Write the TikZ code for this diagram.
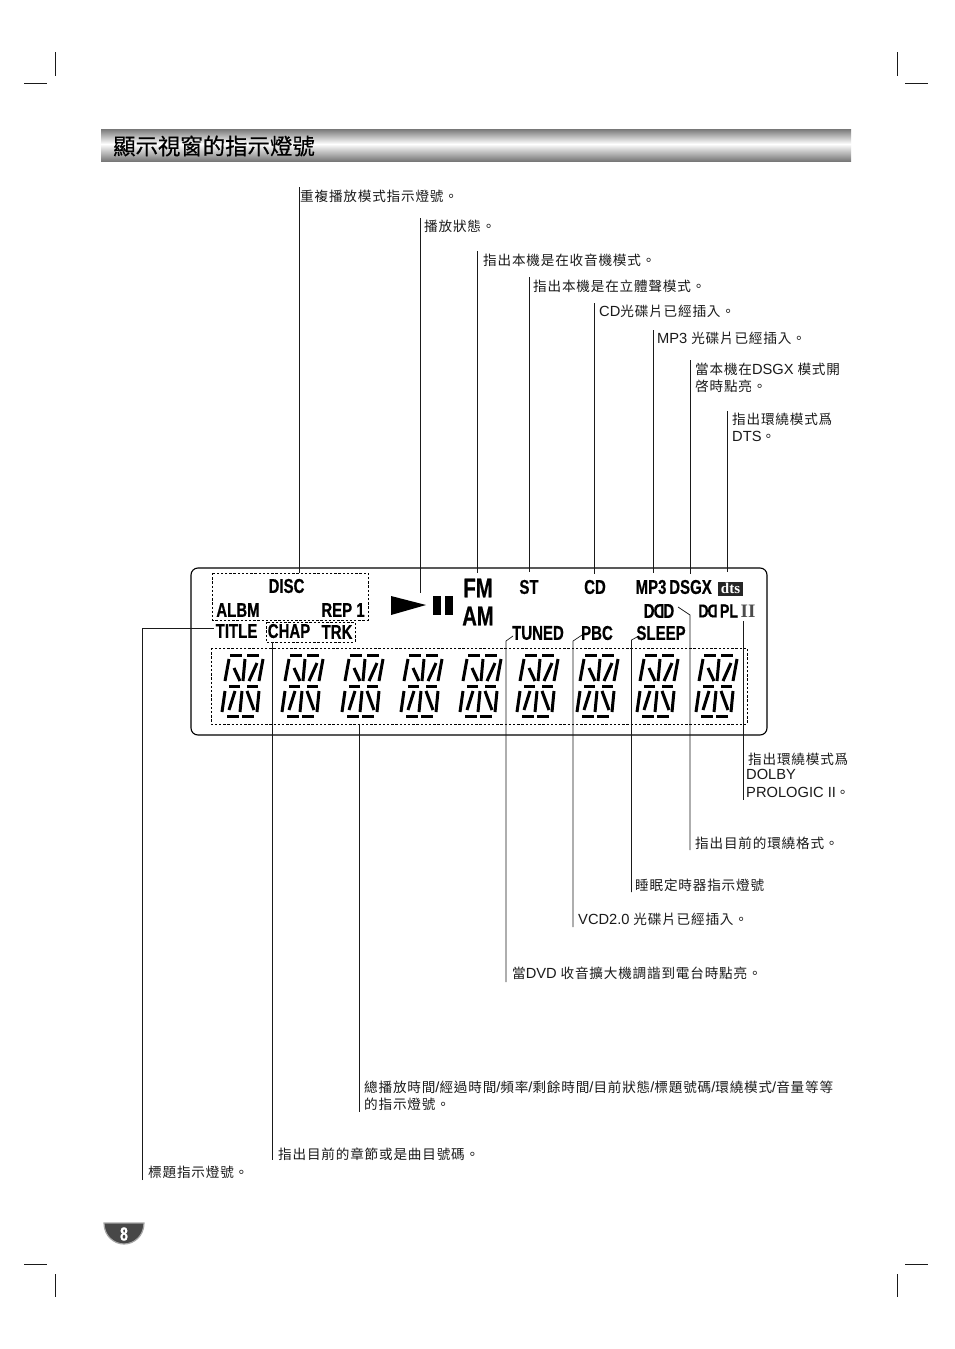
\documentclass[tikz,border=0pt]{standalone}
\usepackage{fontspec}
\setmainfont{Liberation Sans}
\newfontfamily\cjk[LetterSpace=6]{Noto Sans CJK TC}
\newfontfamily\cjkhead[FakeBold=0.4]{Noto Sans CJK TC}
\newfontfamily\lat[Scale=1.08]{Liberation Sans}
\newfontfamily\cond[FakeStretch=0.75,FakeBold=0.5]{Liberation Sans Bold}
\newfontfamily\romanb{Liberation Serif Bold}
\definecolor{ink}{HTML}{1A1A1A}
\definecolor{barend}{HTML}{787878}
\newcommand{\lt}[1]{{\lat #1}}
\tikzset{
  lead/.style={draw=ink,line width=0.7pt},
  crop/.style={draw=ink,line width=0.6pt},
  note/.style={anchor=west,inner sep=0pt,font=\fontsize{13.6}{14}\selectfont\cjk,text=ink},
  lcd/.style={anchor=center,inner sep=0pt,font=\fontsize{20}{20}\selectfont\cond,text=black},
  dbox/.style={draw=black,line width=0.7pt,dash pattern=on 2.4pt off 1.8pt},
  seg/.style={draw=black,line width=3pt}
}
\newcommand{\digitat}[1]{%
  \begin{scope}[shift={(#1,654)}]
    \foreach \a/\b/\c/\d in {8/1/20/1,25/1/37/1,
      7/5/3/27,23/5/21/27,41/5/37/27,12/14/18/27,35/9/27/27,
      7/32/18/32,25/32/36/32,
      3/37/0/58,20/37/18/58,37/37/35/58,13/37/7/56,25/37/32/56,
      5/62/17/62,20/62/32/62}
      {\draw[seg] (\a,\b) -- (\c,\d);}
  \end{scope}}
\begin{document}
\begin{tikzpicture}[x=1pt,y=-1pt]
\useasboundingbox (0,0) rectangle (954,1349);
\fill[white] (0,0) rectangle (954,1349);
% crop marks
\coordinate (c1a) at (55,52); \coordinate (c1b) at (55,76);
\coordinate (c2a) at (24,83); \coordinate (c2b) at (47,83);
\coordinate (c3a) at (897,52); \coordinate (c3b) at (897,76);
\coordinate (c4a) at (905,83); \coordinate (c4b) at (928,83);
\coordinate (c5a) at (55,1274); \coordinate (c5b) at (55,1297);
\coordinate (c6a) at (24,1264); \coordinate (c6b) at (47,1264);
\coordinate (c7a) at (897,1274); \coordinate (c7b) at (897,1297);
\coordinate (c8a) at (905,1264); \coordinate (c8b) at (928,1264);
\foreach \n in {1,...,8} {\draw[crop] (c\n a) -- (c\n b);}
% header
\fill[top color=barend,bottom color=white] (101,129) rectangle (851,144);
\fill[top color=white,bottom color=barend] (101,144) rectangle (851,161);
\node[anchor=west,inner sep=0pt,font=\fontsize{22.4}{23}\selectfont\cjkhead,text=black] (title) at (113,146) {顯示視窗的指示燈號};
% panel
\draw[draw=black,line width=1.1pt,rounded corners=7pt] (191,568) rectangle (767,735);
\draw[dbox] (212,573) rectangle (368,620);
\draw[dbox] (266,622) rectangle (355,642);
\draw[dbox] (211,648) rectangle (747,724);
\foreach \x in {222,282,342,401,460,517,577,637,696} {\digitat{\x}}
% LCD labels
\node[lcd] (disc) at (286.5,586) {DISC};
\node[lcd] (albm) at (238,610) {ALBM};
\node[lcd] (rep) at (343,610) {REP 1};
\node[lcd] (ttl) at (236.5,631) {TITLE};
\node[lcd] (chap) at (289,631) {CHAP};
\node[lcd] (trk) at (337,632) {TRK};
\fill[black] (391,596) -- (426,605) -- (391,615) -- cycle;
\fill[black] (433,596) rectangle (441,615);
\fill[black] (445,596) rectangle (453,615);
\node[lcd,font=\fontsize{27}{27}\selectfont\cond] (fm) at (478,588) {FM};
\node[lcd,font=\fontsize{27}{27}\selectfont\cond] (am) at (478,616) {AM};
\node[lcd] (st) at (529,587) {ST};
\node[lcd] (cd) at (595,587) {CD};
\node[lcd] (mp3) at (651,587) {MP3};
\node[lcd] (dsgx) at (690.5,587) {DSGX};
\node[anchor=center,fill=black!85,minimum width=25pt,minimum height=14pt,inner sep=0pt,text=white,font=\fontsize{15}{15}\selectfont\romanb] (dts) at (730.5,588.5) {dts};
\node[lcd] (tuned) at (538,633) {TUNED};
\node[lcd] (pbc) at (597,633) {PBC};
\node[lcd] (sleep) at (661,633) {SLEEP};
\node[lcd] (ddd) at (659,611) {D\kern-1pt\scalebox{-1}[1]{D}\kern-1pt D};
\node[lcd,font=\fontsize{18.5}{19}\selectfont\cond] (dd) at (708,611) {D\kern-1pt\scalebox{-1}[1]{D}};
\node[lcd,font=\fontsize{19}{19}\selectfont\cond] (pl) at (729,611) {PL};
\node[anchor=center,inner sep=0pt,font=\fontsize{19}{19}\selectfont\romanb,text=black!70] (two) at (748,611) {II};
% top notes
\node[note] (n1) at (300,196) {重複播放模式指示燈號。};
\node[note] (n2) at (424,226) {播放狀態。};
\node[note] (n3) at (483,260) {指出本機是在收音機模式。};
\node[note] (n4) at (533,286) {指出本機是在立體聲模式。};
\node[note] (n5) at (599,311) {\lt{CD}光碟片已經插入。};
\node[note] (n6) at (657,338) {\lt{MP3} 光碟片已經插入。};
\node[note] (n7) at (695,369) {當本機在\lt{DSGX} 模式開};
\node[note] (n7b) at (695,386) {啓時點亮。};
\node[note] (n8) at (732,419) {指出環繞模式爲};
\node[note] (n8b) at (732,436) {\lt{DTS}。};
% bottom notes
\node[note] (n9) at (748,759) {指出環繞模式爲};
\node[note] (n9b) at (746,774) {\lt{DOLBY}};
\node[note] (n9c) at (746,792) {\lt{PROLOGIC II}。};
\node[note] (n10) at (695,843) {指出目前的環繞格式。};
\node[note] (n11) at (635,885) {睡眠定時器指示燈號};
\node[note] (n12) at (578,919) {\lt{VCD2.0} 光碟片已經插入。};
\node[note] (n13) at (512,973) {當\lt{DVD} 收音擴大機調諧到電台時點亮。};
\node[note] (n14) at (364,1087) {總播放時間\lt{/}經過時間\lt{/}頻率\lt{/}剩餘時間\lt{/}目前狀態\lt{/}標題號碼\lt{/}環繞模式\lt{/}音量等等};
\node[note] (n14b) at (364,1104) {的指示燈號。};
\node[note] (n15) at (278,1154) {指出目前的章節或是曲目號碼。};
\node[note] (n16) at (148,1172) {標題指示燈號。};
% leader ends
\foreach \n/\x/\ya/\yb in {a/299/187/573,b/420.5/218/593,c/477/251/573,d/529/277/572,
  e/594/303/574,f/653.5/330/573,g/690/360/574,h/727/411/572,
  i/743.5/621/800,j/359/724/1112,k/272/642/1160}
  {\coordinate (\n1) at (\x,\ya); \coordinate (\n2) at (\x,\yb); \draw[lead] (\n1) -- (\n2);}
\coordinate (t1) at (142,1180); \coordinate (t2) at (142,628); \coordinate (t3) at (214,628);
\draw[lead] (t1) -- (t2) -- (t3);
\coordinate (u1) at (506,982); \coordinate (u2) at (506,641); \coordinate (u3) at (513,636);
\draw[lead] (u1) -- (u2) -- (u3);
\coordinate (v1) at (573,927); \coordinate (v2) at (573,641); \coordinate (v3) at (582,635);
\draw[lead] (v1) -- (v2) -- (v3);
\coordinate (w1) at (631.5,892); \coordinate (w2) at (631.5,640); \coordinate (w3) at (637,637);
\draw[lead] (w1) -- (w2) -- (w3);
\coordinate (x1) at (678,607); \coordinate (x2) at (690,615); \coordinate (x3) at (690,850);
\draw[lead] (x1) -- (x2) -- (x3);
% page badge
\path[fill=black!72,draw=black!35,line width=1.2pt] (104,1223) -- (144,1223) .. controls (144,1236) and (134,1244) .. (124,1244) .. controls (114,1244) and (104,1236) .. (104,1223) -- cycle;
\node[anchor=center,inner sep=0pt,text=white,font=\fontsize{19}{19}\selectfont\cond] (pg) at (124,1234) {8};
\end{tikzpicture}
\end{document}
